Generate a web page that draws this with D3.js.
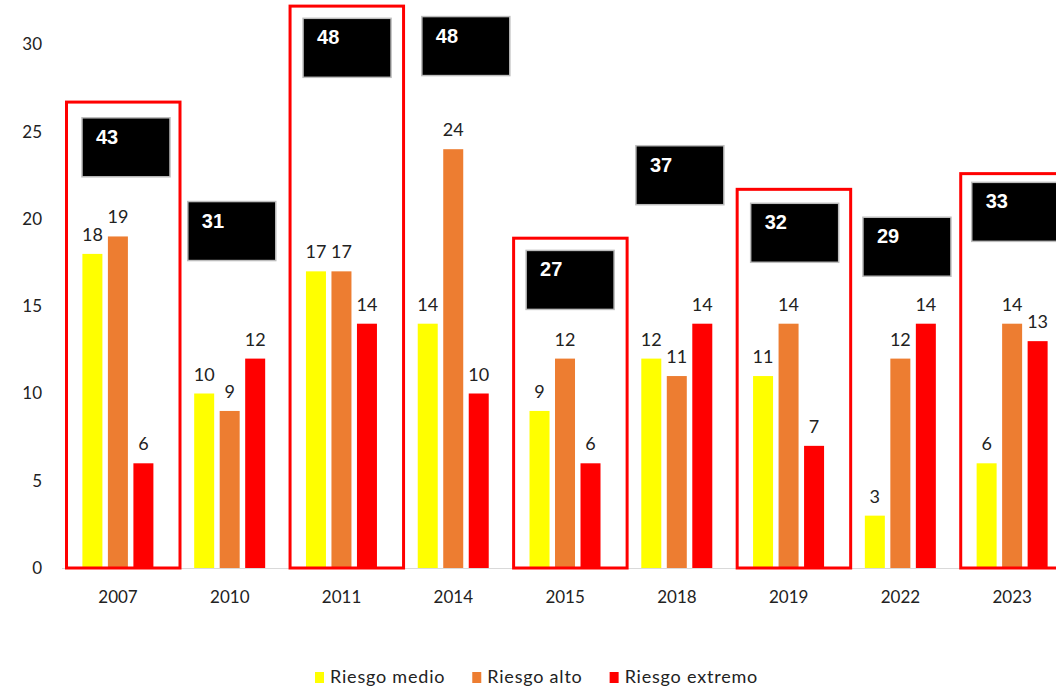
<!DOCTYPE html>
<html>
<head>
<meta charset="utf-8">
<script src="https://cdn.jsdelivr.net/npm/d3@7"></script>
<style>
  html, body { margin: 0; padding: 0; background: #fff; }
  svg { display: block; }
</style>
</head>
<body>
<svg id="chart" width="1056" height="691"></svg>
<script>
// Survey years and the three risk levels
const years = ["2007", "2010", "2011", "2014", "2015", "2018", "2019", "2022", "2023"];
const seriesNames = ["Riesgo medio", "Riesgo alto", "Riesgo extremo"];
const riesgoMedio   = [18, 10, 17, 14, 9, 12, 11, 3, 6];
const riesgoAlto    = [19, 9, 17, 24, 12, 11, 14, 12, 14];
const riesgoExtremo = [6, 12, 14, 10, 6, 14, 7, 14, 13];
const yTicks = [0, 5, 10, 15, 20, 25, 30];
// Years highlighted with a red frame
const highlighted = ["2007", "2011", "2015", "2019", "2023"];

const colors = ["#ffff00", "#ed7d31", "#ff0000"];
const seriesValues = [riesgoMedio, riesgoAlto, riesgoExtremo];

// Annotation layout: top of each total box and frame (axis units), box shift in px
const totalBoxTop = [25.8, 21.0, 31.5, 31.6, 18.2, 24.2, 20.9, 20.1, 22.1];
const totalBoxShift = [20, 14, 17.5, 24.5, 17, 15, 18, 18.5, 15.5];
const frameTop = [26.7, 32.2, 18.9, 21.7, 22.6];

const svg = d3.select("#chart");
const font = "Lato, 'Open Sans', sans-serif";

const y = d3.scaleLinear().domain([0, 30]).range([568, 44.5]);
const x0 = d3.scaleBand().domain(years).range([62, 1068]).padding(0);
const x1 = d3.scaleBand().domain(seriesNames).range([20.4, 91.4]).paddingInner(0.2157).paddingOuter(0);

// baseline
svg.append("line")
  .attr("x1", 62).attr("x2", 1056)
  .attr("y1", y(0) + 0.5).attr("y2", y(0) + 0.5)
  .attr("stroke", "#d9d9d9").attr("stroke-width", 1);

// y tick labels
svg.append("g").selectAll("text").data(yTicks).join("text")
  .attr("x", 42).attr("y", d => y(d))
  .attr("dy", "0.35em")
  .attr("text-anchor", "end")
  .attr("font-family", font).attr("font-size", 17)
  .attr("fill", "#222")
  .text(d => d);

// x labels
svg.append("g").selectAll("text").data(years).join("text")
  .attr("x", d => x0(d) + 56)
  .attr("y", 603)
  .attr("text-anchor", "middle")
  .attr("font-family", font).attr("font-size", 17)
  .attr("fill", "#222")
  .text(d => d);

// bars and value labels
const groups = svg.append("g").selectAll("g").data(years).join("g")
  .attr("transform", d => `translate(${x0(d)},0)`);

groups.each(function(year, i) {
  const g = d3.select(this);
  const rows = seriesNames.map((s, k) => ({ s, k, v: seriesValues[k][i] }));
  g.selectAll("rect").data(rows).join("rect")
    .attr("x", d => x1(d.s))
    .attr("width", x1.bandwidth())
    .attr("y", d => y(d.v))
    .attr("height", d => y(0) - y(d.v))
    .attr("fill", d => colors[d.k]);
  g.selectAll("text").data(rows).join("text")
    .attr("x", d => x1(d.s) + x1.bandwidth() / 2)
    .attr("y", d => y(d.v) - 13)
    .attr("text-anchor", "middle")
    .attr("font-family", font).attr("font-size", 18)
    .attr("fill", "#222")
    .text(d => d.v);
});

// red frames around highlighted years
svg.append("g").selectAll("rect").data(highlighted).join("rect")
  .attr("x", d => x0(d) + 4.5)
  .attr("width", 113.5)
  .attr("y", (d, j) => y(frameTop[j]))
  .attr("height", (d, j) => y(0) - y(frameTop[j]))
  .attr("fill", "none")
  .attr("stroke", "#ff0000")
  .attr("stroke-width", 3);

// totals in black boxes
const totals = years.map((yr, i) => ({
  yr, i, total: riesgoMedio[i] + riesgoAlto[i] + riesgoExtremo[i]
}));
const boxes = svg.append("g").selectAll("g").data(totals).join("g")
  .attr("transform", d => `translate(${x0(d.yr) + totalBoxShift[d.i]},${y(totalBoxTop[d.i])})`);
boxes.append("rect")
  .attr("width", 88).attr("height", 59)
  .attr("fill", "#000")
  .attr("stroke", "#bdbdbd").attr("stroke-width", 1.5);
boxes.append("text")
  .attr("x", 14).attr("y", 26)
  .attr("font-family", "'Liberation Sans', Arial, sans-serif")
  .attr("font-weight", "bold").attr("font-size", 20)
  .attr("fill", "#fff")
  .text(d => d.total);

// legend
const legend = svg.append("g");
let lx = 315;
seriesNames.forEach((name, k) => {
  legend.append("rect")
    .attr("x", lx).attr("y", 672)
    .attr("width", 9).attr("height", 11)
    .attr("fill", colors[k]);
  const t = legend.append("text")
    .attr("x", lx + 15).attr("y", 683)
    .attr("font-family", font).attr("font-size", 18)
    .attr("letter-spacing", 0.8)
    .attr("fill", "#222")
    .text(name);
  lx += 15 + t.node().getComputedTextLength() + 27;
});
</script>
</body>
</html>
